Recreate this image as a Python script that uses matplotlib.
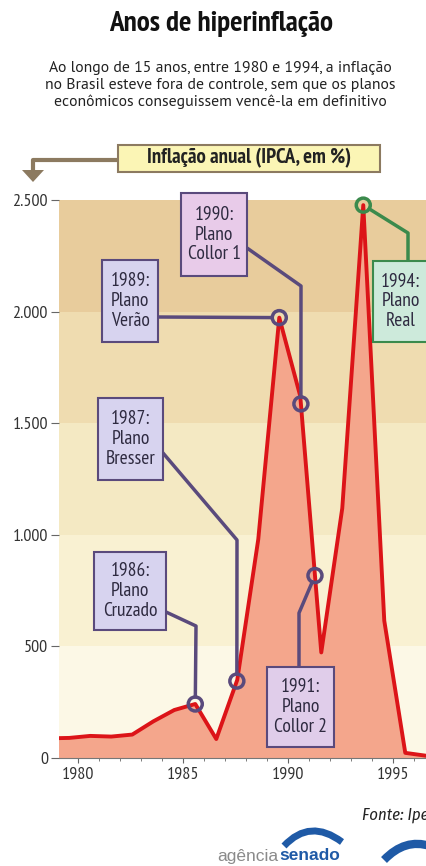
import matplotlib
matplotlib.use('Agg')
import matplotlib.pyplot as plt
import matplotlib.font_manager as fm
from matplotlib.patches import Rectangle, Circle, Polygon, PathPatch
from matplotlib.path import Path
from matplotlib.transforms import Affine2D
import numpy as np

# data (IPCA, % a year)
years = [1978, 1979, 1980, 1981, 1982, 1983, 1984, 1985, 1986, 1987,
         1988, 1989, 1990, 1991, 1992, 1993, 1994, 1995, 1996]
ipca = [88, 90, 99, 96, 105, 164, 215, 242, 85, 350,
        980, 1973, 1621, 473, 1119, 2477, 615, 23, 10]
x_ticks = [1980, 1985, 1990, 1995]
y_ticks = [0, 500, 1000, 1500, 2000, 2500]
y_labels = ['0', '500', '1.000', '1.500', '2.000', '2.500']
band_colors = ['#fcf8e6', '#f9f1d2', '#f4e9c3', '#efdcb0', '#e8cc9c']

# plans marked on the line (position on the time axis)
plan_pos = [1985.57, 1987.55, 1989.57, 1990.60, 1991.27, 1993.57]
plan_text = ['1986:\nPlano\nCruzado', '1987:\nPlano\nBresser', '1989:\nPlano\nVerão',
             '1990:\nPlano\nCollor 1', '1991:\nPlano\nCollor 2', '1994:\nPlano\nReal']

W, H = 426, 866
names = {f.name for f in fm.fontManager.ttflist}
italics = {f.name for f in fm.fontManager.ttflist if f.style == 'italic'}


def pick(options, pool=names):
    for o in options:
        if o in pool:
            return o
    return 'DejaVu Sans'


narrow = pick(['PT Sans Narrow', 'Fira Sans Condensed', 'Asap Condensed', 'Archivo Narrow',
               'Barlow Semi Condensed'])
narrow_it = pick(['Fira Sans Condensed', 'Asap Condensed', 'Barlow Semi Condensed'], italics)
regular = pick(['PT Sans', 'Fira Sans', 'Lato'])

fig = plt.figure(figsize=(W / 100, H / 100), dpi=100)
pix = Affine2D().scale(1.0 / W, -1.0 / H).translate(0, 1) + fig.transFigure

ax = fig.add_axes([59 / W, 1 - 758 / H, (W - 59) / W, 558 / H])
x0 = 1980 - 19.3 / 21
ax.set_xlim(x0, x0 + 367 / 21)
ax.set_ylim(0, 2500)

# background bands
for i, c in enumerate(band_colors):
    ax.axhspan(y_ticks[i], y_ticks[i + 1], color=c, lw=0, zorder=0)

# points sit in the middle of each year
xs = np.array(years) + 0.57
ax.fill_between(xs, ipca, color='#f4a68c', lw=0, zorder=2)
ax.plot(xs, ipca, color='#dc1418', lw=2.8, zorder=3)

for s in ['top', 'right', 'left']:
    ax.spines[s].set_visible(False)
ax.spines['bottom'].set_color('#777777')
ax.set_yticks(y_ticks)
ax.set_yticklabels(y_labels, family=narrow, fontsize=13, color='#333333')
ax.set_xticks(x_ticks)
ax.set_xticklabels([str(t) for t in x_ticks], family=narrow, fontsize=13, color='#333333')
ax.set_xticks(range(1980, 1997), minor=True)
ax.tick_params(axis='y', length=6, color='#666666', pad=2)
ax.tick_params(axis='x', which='major', direction='inout', length=7, color='#666666', pad=3)
ax.tick_params(axis='x', which='minor', direction='inout', length=5, color='#666666')

# titles
fig.text(221 / W, 1 - 24 / H, 'Anos de hiperinflação', ha='center', va='center',
         family=narrow, fontsize=21, fontweight='bold', color='#111111')
sub = ['Ao longo de 15 anos, entre 1980 e 1994, a inflação',
       'no Brasil esteve fora de controle, sem que os planos',
       'econômicos conseguissem vencê-la em definitivo']
for i, line in enumerate(sub):
    fig.text(220 / W, 1 - (68 + 17 * i) / H, line, ha='center', va='center',
             family=regular, fontsize=11.3, color='#222222')

# header box with arrow
brown = '#8c7a60'
fig.patches.append(Rectangle((118, 145), 262, 27, transform=pix, facecolor='#fbf5b5',
                             edgecolor=brown, lw=1.5, zorder=5))
fig.lines.append(plt.Line2D([118, 33, 33], [160, 160, 172], transform=pix, color=brown,
                            lw=3, zorder=5))
fig.patches.append(Polygon([(22, 170), (44, 170), (33, 182)], closed=True, transform=pix,
                           facecolor=brown, edgecolor='none', zorder=5))
fig.text(249 / W, 1 - 158 / H, 'Inflação anual (IPCA, em %)', ha='center', va='center',
         family=narrow, fontsize=15, fontweight='bold', color='#222222', zorder=6)

# plan boxes: (left, top, right, bottom), connector waypoints, fill, line colour
purple = '#5a4a7c'
green = '#3b8a4c'
boxes = [((94, 552, 166, 630), [(166, 612), (196, 626)], '#d7d3ef', purple),
         ((98, 398, 163, 480), [(163, 453), (237, 540)], '#d7d3ef', purple),
         ((102, 260, 158, 342), [(158, 317)], '#d7d3ef', purple),
         ((181, 193, 247, 276), [(247, 248), (301, 286)], '#e8cbe9', purple),
         ((267, 667, 334, 747), [(299, 667), (299, 613)], '#e0cdea', purple),
         ((373, 261, 428, 342), [(408, 261), (408, 233)], '#cdeadb', green)]

fig.canvas.draw()
r = 7
for pos, txt, (b, way, face, col) in zip(plan_pos, plan_text, boxes):
    val = np.interp(pos, xs, ipca)
    dx, dy = ax.transData.transform((pos, val))
    cx, cy = dx, H - dy
    # stop the connector at the circle edge
    px, py = way[-1]
    v = np.array([cx - px, cy - py])
    end = np.array([cx, cy]) - v / np.hypot(*v) * r
    pts = way + [tuple(end)]
    fig.lines.append(plt.Line2D([p[0] for p in pts], [p[1] for p in pts], transform=pix,
                                color=col, lw=2.5, zorder=6))
    fig.patches.append(Circle((cx, cy), r, transform=pix, facecolor='none', edgecolor=col,
                              lw=2.5, zorder=7))
    l, t, rr, bb = b
    fig.patches.append(Rectangle((l, t), rr - l, bb - t, transform=pix, facecolor=face,
                                 edgecolor=col, lw=1.5, zorder=8))
    fig.text((l + rr) / 2 / W, 1 - (t + bb) / 2 / H, txt, ha='center', va='center',
             family=narrow, fontsize=14, linespacing=1.12, color='#2e2a40', zorder=9)

# source and logo
fig.text(362 / W, 1 - 815 / H, 'Fonte: Ipea', ha='left', va='center', family=narrow_it,
         fontsize=12, style='italic', color='#222222')
fig.text(278 / W, 1 - 856 / H, 'agência', ha='right', va='center', family='Liberation Sans',
         fontsize=12.5, color='#8a8a8a')
fig.text(279 / W, 1 - 856 / H, 'senado', ha='left', va='center', family='Liberation Sans',
         fontsize=12.5, fontweight='bold', color='#1f5aa6')
fig.patches.append(PathPatch(Path([(284, 846), (310, 818), (342, 842)],
                                  [Path.MOVETO, Path.CURVE3, Path.CURVE3]), transform=pix,
                             facecolor='none', edgecolor='#1f5aa6', lw=5, zorder=5))
fig.patches.append(PathPatch(Path([(384, 860), (405, 838), (430, 846)],
                                  [Path.MOVETO, Path.CURVE3, Path.CURVE3]), transform=pix,
                             facecolor='none', edgecolor='#1f5aa6', lw=6, zorder=5))

fig.savefig('out.png', dpi=100)
